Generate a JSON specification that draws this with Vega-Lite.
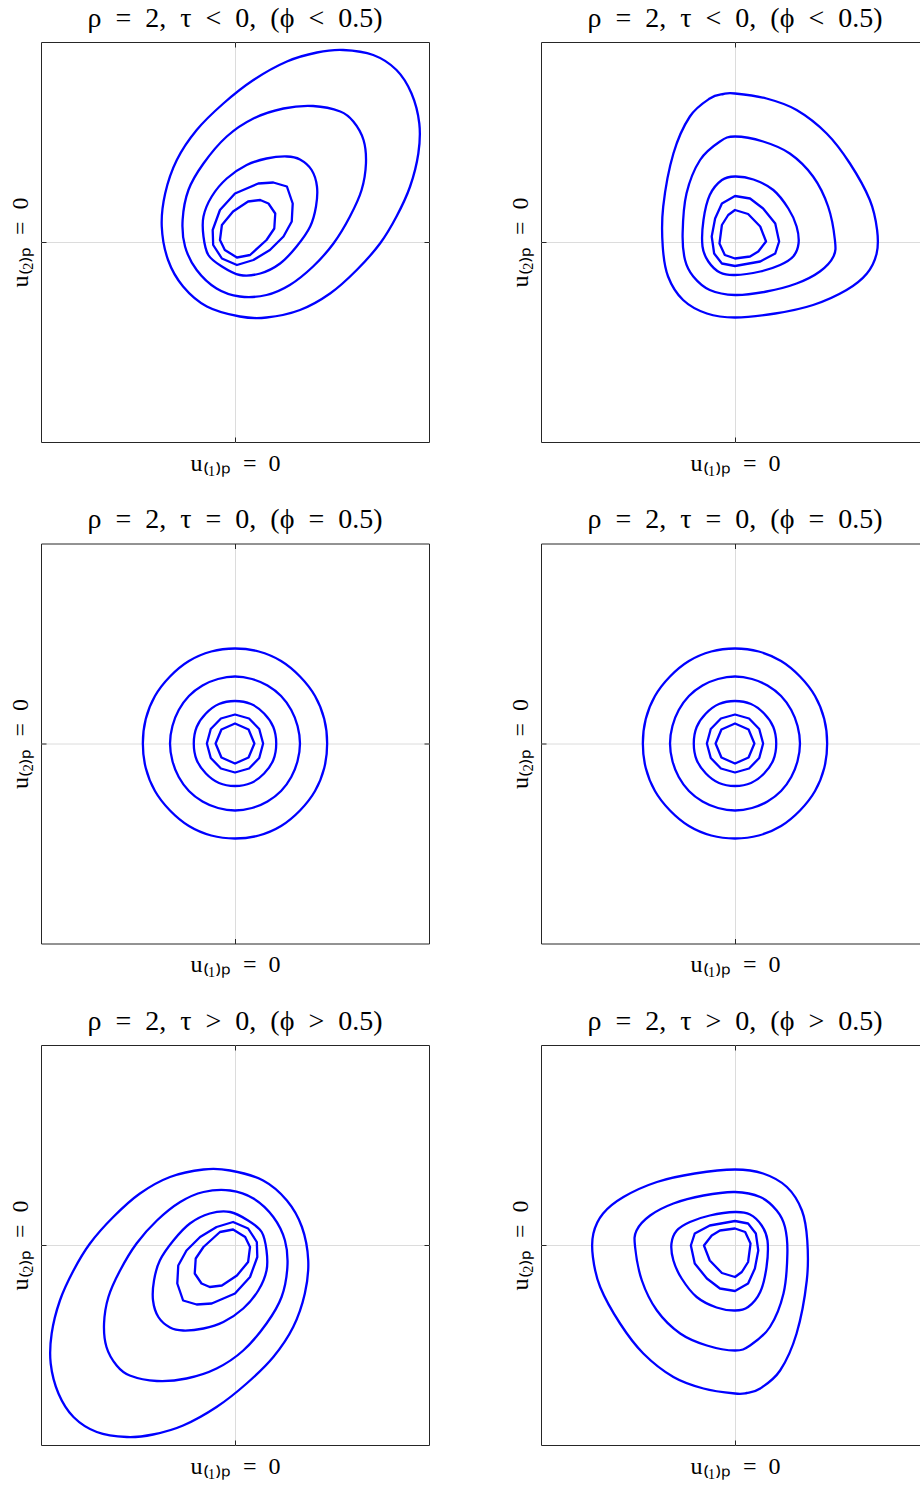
{
"$schema": "https://vega.github.io/schema/vega-lite/v6.json",
"background": "white",
"padding": {"left": 4, "top": 4, "right": 0, "bottom": 5},
"columns": 2,
"spacing": {"row": 22.5, "column": 74},
"data": {"values": [
{"p":1,"c":1,"x":2.23,"y":3.84},{"p":1,"c":1,"x":2.85,"y":3.74},{"p":1,"c":1,"x":3.33,"y":3.44},{"p":1,"c":1,"x":3.64,"y":2.97},{"p":1,"c":1,"x":3.8,"y":2.37},{"p":1,"c":1,"x":3.78,"y":1.77},{"p":1,"c":1,"x":3.61,"y":1.11},{"p":1,"c":1,"x":3.33,"y":0.51},{"p":1,"c":1,"x":2.99,"y":-0.03},{"p":1,"c":1,"x":2.51,"y":-0.56},{"p":1,"c":1,"x":1.96,"y":-1.03},{"p":1,"c":1,"x":1.34,"y":-1.36},{"p":1,"c":1,"x":0.65,"y":-1.51},{"p":1,"c":1,"x":0.1,"y":-1.49},{"p":1,"c":1,"x":-0.58,"y":-1.29},{"p":1,"c":1,"x":-1.07,"y":-0.89},{"p":1,"c":1,"x":-1.38,"y":-0.36},{"p":1,"c":1,"x":-1.51,"y":0.31},{"p":1,"c":1,"x":-1.44,"y":0.97},{"p":1,"c":1,"x":-1.2,"y":1.64},{"p":1,"c":1,"x":-0.79,"y":2.24},{"p":1,"c":1,"x":-0.24,"y":2.77},{"p":1,"c":1,"x":0.38,"y":3.24},{"p":1,"c":1,"x":1.07,"y":3.61},{"p":1,"c":1,"x":1.69,"y":3.79},
{"p":1,"c":2,"x":1.61,"y":2.72},{"p":1,"c":2,"x":2.17,"y":2.61},{"p":1,"c":2,"x":2.44,"y":2.41},{"p":1,"c":2,"x":2.65,"y":2.04},{"p":1,"c":2,"x":2.7,"y":1.57},{"p":1,"c":2,"x":2.61,"y":1.04},{"p":1,"c":2,"x":2.37,"y":0.51},{"p":1,"c":2,"x":2.03,"y":-0.03},{"p":1,"c":2,"x":1.61,"y":-0.49},{"p":1,"c":2,"x":1.13,"y":-0.86},{"p":1,"c":2,"x":0.65,"y":-1.06},{"p":1,"c":2,"x":0.1,"y":-1.09},{"p":1,"c":2,"x":-0.38,"y":-0.93},{"p":1,"c":2,"x":-0.79,"y":-0.56},{"p":1,"c":2,"x":-1.03,"y":-0.09},{"p":1,"c":2,"x":-1.08,"y":0.44},{"p":1,"c":2,"x":-0.96,"y":1.04},{"p":1,"c":2,"x":-0.65,"y":1.57},{"p":1,"c":2,"x":-0.17,"y":2.11},{"p":1,"c":2,"x":0.38,"y":2.47},{"p":1,"c":2,"x":1.0,"y":2.67},
{"p":1,"c":3,"x":1.07,"y":1.71},{"p":1,"c":3,"x":1.34,"y":1.65},{"p":1,"c":3,"x":1.58,"y":1.44},{"p":1,"c":3,"x":1.69,"y":1.11},{"p":1,"c":3,"x":1.67,"y":0.71},{"p":1,"c":3,"x":1.55,"y":0.31},{"p":1,"c":3,"x":1.27,"y":-0.09},{"p":1,"c":3,"x":0.93,"y":-0.43},{"p":1,"c":3,"x":0.52,"y":-0.63},{"p":1,"c":3,"x":0.1,"y":-0.66},{"p":1,"c":3,"x":-0.27,"y":-0.49},{"p":1,"c":3,"x":-0.55,"y":-0.26},{"p":1,"c":3,"x":-0.65,"y":0.11},{"p":1,"c":3,"x":-0.65,"y":0.51},{"p":1,"c":3,"x":-0.48,"y":0.91},{"p":1,"c":3,"x":-0.17,"y":1.27},{"p":1,"c":3,"x":0.24,"y":1.54},{"p":1,"c":3,"x":0.65,"y":1.67},
{"p":1,"c":4,"x":0.79,"y":1.19},{"p":1,"c":4,"x":1.07,"y":1.11},{"p":1,"c":4,"x":1.19,"y":0.77},{"p":1,"c":4,"x":1.17,"y":0.41},{"p":1,"c":4,"x":1.0,"y":0.11},{"p":1,"c":4,"x":0.72,"y":-0.16},{"p":1,"c":4,"x":0.38,"y":-0.36},{"p":1,"c":4,"x":0.04,"y":-0.46},{"p":1,"c":4,"x":-0.27,"y":-0.33},{"p":1,"c":4,"x":-0.45,"y":-0.06},{"p":1,"c":4,"x":-0.46,"y":0.24},{"p":1,"c":4,"x":-0.31,"y":0.64},{"p":1,"c":4,"x":0,"y":0.97},{"p":1,"c":4,"x":0.48,"y":1.17},
{"p":1,"c":5,"x":0.52,"y":0.84},{"p":1,"c":5,"x":0.69,"y":0.77},{"p":1,"c":5,"x":0.83,"y":0.57},{"p":1,"c":5,"x":0.81,"y":0.27},{"p":1,"c":5,"x":0.65,"y":0.04},{"p":1,"c":5,"x":0.31,"y":-0.26},{"p":1,"c":5,"x":0.04,"y":-0.31},{"p":1,"c":5,"x":-0.21,"y":-0.16},{"p":1,"c":5,"x":-0.31,"y":0.04},{"p":1,"c":5,"x":-0.27,"y":0.34},{"p":1,"c":5,"x":-0.04,"y":0.61},{"p":1,"c":5,"x":0.27,"y":0.81},
{"p":2,"c":1,"x":0,"y":2.97},{"p":2,"c":1,"x":0.65,"y":2.87},{"p":2,"c":1,"x":1.27,"y":2.64},{"p":2,"c":1,"x":1.89,"y":2.17},{"p":2,"c":1,"x":2.37,"y":1.57},{"p":2,"c":1,"x":2.78,"y":0.84},{"p":2,"c":1,"x":2.93,"y":0.24},{"p":2,"c":1,"x":2.92,"y":-0.23},{"p":2,"c":1,"x":2.72,"y":-0.63},{"p":2,"c":1,"x":2.3,"y":-0.96},{"p":2,"c":1,"x":1.61,"y":-1.26},{"p":2,"c":1,"x":0.83,"y":-1.43},{"p":2,"c":1,"x":0,"y":-1.51},{"p":2,"c":1,"x":-0.58,"y":-1.43},{"p":2,"c":1,"x":-1.07,"y":-1.16},{"p":2,"c":1,"x":-1.38,"y":-0.69},{"p":2,"c":1,"x":-1.49,"y":-0.09},{"p":2,"c":1,"x":-1.48,"y":0.71},{"p":2,"c":1,"x":-1.27,"y":1.77},{"p":2,"c":1,"x":-0.93,"y":2.51},{"p":2,"c":1,"x":-0.52,"y":2.87},{"p":2,"c":1,"x":-0.24,"y":2.96},
{"p":2,"c":2,"x":0,"y":2.11},{"p":2,"c":2,"x":0.58,"y":2.01},{"p":2,"c":2,"x":1.13,"y":1.77},{"p":2,"c":2,"x":1.61,"y":1.31},{"p":2,"c":2,"x":1.92,"y":0.71},{"p":2,"c":2,"x":2.06,"y":0.04},{"p":2,"c":2,"x":2.03,"y":-0.29},{"p":2,"c":2,"x":1.75,"y":-0.59},{"p":2,"c":2,"x":1.27,"y":-0.83},{"p":2,"c":2,"x":0.65,"y":-0.99},{"p":2,"c":2,"x":0,"y":-1.06},{"p":2,"c":2,"x":-0.52,"y":-0.96},{"p":2,"c":2,"x":-0.86,"y":-0.69},{"p":2,"c":2,"x":-1.03,"y":-0.36},{"p":2,"c":2,"x":-1.08,"y":0.17},{"p":2,"c":2,"x":-1.0,"y":0.97},{"p":2,"c":2,"x":-0.72,"y":1.64},{"p":2,"c":2,"x":-0.31,"y":2.01},
{"p":2,"c":3,"x":0,"y":1.31},{"p":2,"c":3,"x":0.38,"y":1.25},{"p":2,"c":3,"x":0.79,"y":1.04},{"p":2,"c":3,"x":1.1,"y":0.67},{"p":2,"c":3,"x":1.27,"y":0.31},{"p":2,"c":3,"x":1.31,"y":-0.03},{"p":2,"c":3,"x":1.2,"y":-0.29},{"p":2,"c":3,"x":0.93,"y":-0.46},{"p":2,"c":3,"x":0.52,"y":-0.59},{"p":2,"c":3,"x":0,"y":-0.66},{"p":2,"c":3,"x":-0.31,"y":-0.61},{"p":2,"c":3,"x":-0.55,"y":-0.39},{"p":2,"c":3,"x":-0.67,"y":-0.09},{"p":2,"c":3,"x":-0.65,"y":0.44},{"p":2,"c":3,"x":-0.52,"y":0.94},{"p":2,"c":3,"x":-0.27,"y":1.24},
{"p":2,"c":4,"x":0,"y":0.92},{"p":2,"c":4,"x":0.31,"y":0.87},{"p":2,"c":4,"x":0.58,"y":0.67},{"p":2,"c":4,"x":0.83,"y":0.37},{"p":2,"c":4,"x":0.91,"y":0.01},{"p":2,"c":4,"x":0.83,"y":-0.23},{"p":2,"c":4,"x":0.52,"y":-0.39},{"p":2,"c":4,"x":0,"y":-0.48},{"p":2,"c":4,"x":-0.27,"y":-0.43},{"p":2,"c":4,"x":-0.43,"y":-0.23},{"p":2,"c":4,"x":-0.48,"y":0.11},{"p":2,"c":4,"x":-0.41,"y":0.47},{"p":2,"c":4,"x":-0.27,"y":0.77},
{"p":2,"c":5,"x":0,"y":0.64},{"p":2,"c":5,"x":0.27,"y":0.56},{"p":2,"c":5,"x":0.52,"y":0.31},{"p":2,"c":5,"x":0.64,"y":0.01},{"p":2,"c":5,"x":0.48,"y":-0.19},{"p":2,"c":5,"x":0.31,"y":-0.29},{"p":2,"c":5,"x":0,"y":-0.33},{"p":2,"c":5,"x":-0.21,"y":-0.26},{"p":2,"c":5,"x":-0.32,"y":-0.03},{"p":2,"c":5,"x":-0.27,"y":0.34},{"p":2,"c":5,"x":-0.14,"y":0.54},
{"p":3,"c":1,"x":1.9,"y":0},{"p":3,"c":1,"x":1.84,"y":0.49},{"p":3,"c":1,"x":1.65,"y":0.95},{"p":3,"c":1,"x":1.34,"y":1.34},{"p":3,"c":1,"x":0.95,"y":1.65},{"p":3,"c":1,"x":0.49,"y":1.84},{"p":3,"c":1,"x":0,"y":1.9},{"p":3,"c":1,"x":-0.49,"y":1.84},{"p":3,"c":1,"x":-0.95,"y":1.65},{"p":3,"c":1,"x":-1.34,"y":1.34},{"p":3,"c":1,"x":-1.65,"y":0.95},{"p":3,"c":1,"x":-1.84,"y":0.49},{"p":3,"c":1,"x":-1.9,"y":0},{"p":3,"c":1,"x":-1.84,"y":-0.49},{"p":3,"c":1,"x":-1.65,"y":-0.95},{"p":3,"c":1,"x":-1.34,"y":-1.34},{"p":3,"c":1,"x":-0.95,"y":-1.65},{"p":3,"c":1,"x":-0.49,"y":-1.84},{"p":3,"c":1,"x":0,"y":-1.9},{"p":3,"c":1,"x":0.49,"y":-1.84},{"p":3,"c":1,"x":0.95,"y":-1.65},{"p":3,"c":1,"x":1.34,"y":-1.34},{"p":3,"c":1,"x":1.65,"y":-0.95},{"p":3,"c":1,"x":1.84,"y":-0.49},
{"p":3,"c":2,"x":1.34,"y":0},{"p":3,"c":2,"x":1.29,"y":0.35},{"p":3,"c":2,"x":1.16,"y":0.67},{"p":3,"c":2,"x":0.95,"y":0.95},{"p":3,"c":2,"x":0.67,"y":1.16},{"p":3,"c":2,"x":0.35,"y":1.29},{"p":3,"c":2,"x":0,"y":1.34},{"p":3,"c":2,"x":-0.35,"y":1.29},{"p":3,"c":2,"x":-0.67,"y":1.16},{"p":3,"c":2,"x":-0.95,"y":0.95},{"p":3,"c":2,"x":-1.16,"y":0.67},{"p":3,"c":2,"x":-1.29,"y":0.35},{"p":3,"c":2,"x":-1.34,"y":0},{"p":3,"c":2,"x":-1.29,"y":-0.35},{"p":3,"c":2,"x":-1.16,"y":-0.67},{"p":3,"c":2,"x":-0.95,"y":-0.95},{"p":3,"c":2,"x":-0.67,"y":-1.16},{"p":3,"c":2,"x":-0.35,"y":-1.29},{"p":3,"c":2,"x":0,"y":-1.34},{"p":3,"c":2,"x":0.35,"y":-1.29},{"p":3,"c":2,"x":0.67,"y":-1.16},{"p":3,"c":2,"x":0.95,"y":-0.95},{"p":3,"c":2,"x":1.16,"y":-0.67},{"p":3,"c":2,"x":1.29,"y":-0.35},
{"p":3,"c":3,"x":0.85,"y":0},{"p":3,"c":3,"x":0.79,"y":0.33},{"p":3,"c":3,"x":0.6,"y":0.6},{"p":3,"c":3,"x":0.33,"y":0.79},{"p":3,"c":3,"x":0,"y":0.85},{"p":3,"c":3,"x":-0.33,"y":0.79},{"p":3,"c":3,"x":-0.6,"y":0.6},{"p":3,"c":3,"x":-0.79,"y":0.33},{"p":3,"c":3,"x":-0.85,"y":0},{"p":3,"c":3,"x":-0.79,"y":-0.33},{"p":3,"c":3,"x":-0.6,"y":-0.6},{"p":3,"c":3,"x":-0.33,"y":-0.79},{"p":3,"c":3,"x":0,"y":-0.85},{"p":3,"c":3,"x":0.33,"y":-0.79},{"p":3,"c":3,"x":0.6,"y":-0.6},{"p":3,"c":3,"x":0.79,"y":-0.33},
{"p":3,"c":4,"x":0.58,"y":0},{"p":3,"c":4,"x":0.5,"y":0.29},{"p":3,"c":4,"x":0.29,"y":0.5},{"p":3,"c":4,"x":0,"y":0.58},{"p":3,"c":4,"x":-0.29,"y":0.5},{"p":3,"c":4,"x":-0.5,"y":0.29},{"p":3,"c":4,"x":-0.58,"y":0},{"p":3,"c":4,"x":-0.5,"y":-0.29},{"p":3,"c":4,"x":-0.29,"y":-0.5},{"p":3,"c":4,"x":0,"y":-0.58},{"p":3,"c":4,"x":0.29,"y":-0.5},{"p":3,"c":4,"x":0.5,"y":-0.29},
{"p":3,"c":5,"x":0.4,"y":0},{"p":3,"c":5,"x":0.28,"y":0.28},{"p":3,"c":5,"x":0,"y":0.4},{"p":3,"c":5,"x":-0.28,"y":0.28},{"p":3,"c":5,"x":-0.4,"y":0},{"p":3,"c":5,"x":-0.28,"y":-0.28},{"p":3,"c":5,"x":0,"y":-0.4},{"p":3,"c":5,"x":0.28,"y":-0.28},
{"p":4,"c":1,"x":1.9,"y":0},{"p":4,"c":1,"x":1.84,"y":0.49},{"p":4,"c":1,"x":1.65,"y":0.95},{"p":4,"c":1,"x":1.34,"y":1.34},{"p":4,"c":1,"x":0.95,"y":1.65},{"p":4,"c":1,"x":0.49,"y":1.84},{"p":4,"c":1,"x":0,"y":1.9},{"p":4,"c":1,"x":-0.49,"y":1.84},{"p":4,"c":1,"x":-0.95,"y":1.65},{"p":4,"c":1,"x":-1.34,"y":1.34},{"p":4,"c":1,"x":-1.65,"y":0.95},{"p":4,"c":1,"x":-1.84,"y":0.49},{"p":4,"c":1,"x":-1.9,"y":0},{"p":4,"c":1,"x":-1.84,"y":-0.49},{"p":4,"c":1,"x":-1.65,"y":-0.95},{"p":4,"c":1,"x":-1.34,"y":-1.34},{"p":4,"c":1,"x":-0.95,"y":-1.65},{"p":4,"c":1,"x":-0.49,"y":-1.84},{"p":4,"c":1,"x":0,"y":-1.9},{"p":4,"c":1,"x":0.49,"y":-1.84},{"p":4,"c":1,"x":0.95,"y":-1.65},{"p":4,"c":1,"x":1.34,"y":-1.34},{"p":4,"c":1,"x":1.65,"y":-0.95},{"p":4,"c":1,"x":1.84,"y":-0.49},
{"p":4,"c":2,"x":1.34,"y":0},{"p":4,"c":2,"x":1.29,"y":0.35},{"p":4,"c":2,"x":1.16,"y":0.67},{"p":4,"c":2,"x":0.95,"y":0.95},{"p":4,"c":2,"x":0.67,"y":1.16},{"p":4,"c":2,"x":0.35,"y":1.29},{"p":4,"c":2,"x":0,"y":1.34},{"p":4,"c":2,"x":-0.35,"y":1.29},{"p":4,"c":2,"x":-0.67,"y":1.16},{"p":4,"c":2,"x":-0.95,"y":0.95},{"p":4,"c":2,"x":-1.16,"y":0.67},{"p":4,"c":2,"x":-1.29,"y":0.35},{"p":4,"c":2,"x":-1.34,"y":0},{"p":4,"c":2,"x":-1.29,"y":-0.35},{"p":4,"c":2,"x":-1.16,"y":-0.67},{"p":4,"c":2,"x":-0.95,"y":-0.95},{"p":4,"c":2,"x":-0.67,"y":-1.16},{"p":4,"c":2,"x":-0.35,"y":-1.29},{"p":4,"c":2,"x":0,"y":-1.34},{"p":4,"c":2,"x":0.35,"y":-1.29},{"p":4,"c":2,"x":0.67,"y":-1.16},{"p":4,"c":2,"x":0.95,"y":-0.95},{"p":4,"c":2,"x":1.16,"y":-0.67},{"p":4,"c":2,"x":1.29,"y":-0.35},
{"p":4,"c":3,"x":0.85,"y":0},{"p":4,"c":3,"x":0.79,"y":0.33},{"p":4,"c":3,"x":0.6,"y":0.6},{"p":4,"c":3,"x":0.33,"y":0.79},{"p":4,"c":3,"x":0,"y":0.85},{"p":4,"c":3,"x":-0.33,"y":0.79},{"p":4,"c":3,"x":-0.6,"y":0.6},{"p":4,"c":3,"x":-0.79,"y":0.33},{"p":4,"c":3,"x":-0.85,"y":0},{"p":4,"c":3,"x":-0.79,"y":-0.33},{"p":4,"c":3,"x":-0.6,"y":-0.6},{"p":4,"c":3,"x":-0.33,"y":-0.79},{"p":4,"c":3,"x":0,"y":-0.85},{"p":4,"c":3,"x":0.33,"y":-0.79},{"p":4,"c":3,"x":0.6,"y":-0.6},{"p":4,"c":3,"x":0.79,"y":-0.33},
{"p":4,"c":4,"x":0.58,"y":0},{"p":4,"c":4,"x":0.5,"y":0.29},{"p":4,"c":4,"x":0.29,"y":0.5},{"p":4,"c":4,"x":0,"y":0.58},{"p":4,"c":4,"x":-0.29,"y":0.5},{"p":4,"c":4,"x":-0.5,"y":0.29},{"p":4,"c":4,"x":-0.58,"y":0},{"p":4,"c":4,"x":-0.5,"y":-0.29},{"p":4,"c":4,"x":-0.29,"y":-0.5},{"p":4,"c":4,"x":0,"y":-0.58},{"p":4,"c":4,"x":0.29,"y":-0.5},{"p":4,"c":4,"x":0.5,"y":-0.29},
{"p":4,"c":5,"x":0.4,"y":0},{"p":4,"c":5,"x":0.28,"y":0.28},{"p":4,"c":5,"x":0,"y":0.4},{"p":4,"c":5,"x":-0.28,"y":0.28},{"p":4,"c":5,"x":-0.4,"y":0},{"p":4,"c":5,"x":-0.28,"y":-0.28},{"p":4,"c":5,"x":0,"y":-0.4},{"p":4,"c":5,"x":0.28,"y":-0.28},
{"p":5,"c":1,"x":-2.23,"y":-3.84},{"p":5,"c":1,"x":-2.85,"y":-3.74},{"p":5,"c":1,"x":-3.33,"y":-3.44},{"p":5,"c":1,"x":-3.64,"y":-2.97},{"p":5,"c":1,"x":-3.8,"y":-2.37},{"p":5,"c":1,"x":-3.78,"y":-1.77},{"p":5,"c":1,"x":-3.61,"y":-1.11},{"p":5,"c":1,"x":-3.33,"y":-0.51},{"p":5,"c":1,"x":-2.99,"y":0.03},{"p":5,"c":1,"x":-2.51,"y":0.56},{"p":5,"c":1,"x":-1.96,"y":1.03},{"p":5,"c":1,"x":-1.34,"y":1.36},{"p":5,"c":1,"x":-0.65,"y":1.51},{"p":5,"c":1,"x":-0.1,"y":1.49},{"p":5,"c":1,"x":0.58,"y":1.29},{"p":5,"c":1,"x":1.07,"y":0.89},{"p":5,"c":1,"x":1.38,"y":0.36},{"p":5,"c":1,"x":1.51,"y":-0.31},{"p":5,"c":1,"x":1.44,"y":-0.97},{"p":5,"c":1,"x":1.2,"y":-1.64},{"p":5,"c":1,"x":0.79,"y":-2.24},{"p":5,"c":1,"x":0.24,"y":-2.77},{"p":5,"c":1,"x":-0.38,"y":-3.24},{"p":5,"c":1,"x":-1.07,"y":-3.61},{"p":5,"c":1,"x":-1.69,"y":-3.79},
{"p":5,"c":2,"x":-1.61,"y":-2.72},{"p":5,"c":2,"x":-2.17,"y":-2.61},{"p":5,"c":2,"x":-2.44,"y":-2.41},{"p":5,"c":2,"x":-2.65,"y":-2.04},{"p":5,"c":2,"x":-2.7,"y":-1.57},{"p":5,"c":2,"x":-2.61,"y":-1.04},{"p":5,"c":2,"x":-2.37,"y":-0.51},{"p":5,"c":2,"x":-2.03,"y":0.03},{"p":5,"c":2,"x":-1.61,"y":0.49},{"p":5,"c":2,"x":-1.13,"y":0.86},{"p":5,"c":2,"x":-0.65,"y":1.06},{"p":5,"c":2,"x":-0.1,"y":1.09},{"p":5,"c":2,"x":0.38,"y":0.93},{"p":5,"c":2,"x":0.79,"y":0.56},{"p":5,"c":2,"x":1.03,"y":0.09},{"p":5,"c":2,"x":1.08,"y":-0.44},{"p":5,"c":2,"x":0.96,"y":-1.04},{"p":5,"c":2,"x":0.65,"y":-1.57},{"p":5,"c":2,"x":0.17,"y":-2.11},{"p":5,"c":2,"x":-0.38,"y":-2.47},{"p":5,"c":2,"x":-1.0,"y":-2.67},
{"p":5,"c":3,"x":-1.07,"y":-1.71},{"p":5,"c":3,"x":-1.34,"y":-1.65},{"p":5,"c":3,"x":-1.58,"y":-1.44},{"p":5,"c":3,"x":-1.69,"y":-1.11},{"p":5,"c":3,"x":-1.67,"y":-0.71},{"p":5,"c":3,"x":-1.55,"y":-0.31},{"p":5,"c":3,"x":-1.27,"y":0.09},{"p":5,"c":3,"x":-0.93,"y":0.43},{"p":5,"c":3,"x":-0.52,"y":0.63},{"p":5,"c":3,"x":-0.1,"y":0.66},{"p":5,"c":3,"x":0.27,"y":0.49},{"p":5,"c":3,"x":0.55,"y":0.26},{"p":5,"c":3,"x":0.65,"y":-0.11},{"p":5,"c":3,"x":0.65,"y":-0.51},{"p":5,"c":3,"x":0.48,"y":-0.91},{"p":5,"c":3,"x":0.17,"y":-1.27},{"p":5,"c":3,"x":-0.24,"y":-1.54},{"p":5,"c":3,"x":-0.65,"y":-1.67},
{"p":5,"c":4,"x":-0.79,"y":-1.19},{"p":5,"c":4,"x":-1.07,"y":-1.11},{"p":5,"c":4,"x":-1.19,"y":-0.77},{"p":5,"c":4,"x":-1.17,"y":-0.41},{"p":5,"c":4,"x":-1.0,"y":-0.11},{"p":5,"c":4,"x":-0.72,"y":0.16},{"p":5,"c":4,"x":-0.38,"y":0.36},{"p":5,"c":4,"x":-0.04,"y":0.46},{"p":5,"c":4,"x":0.27,"y":0.33},{"p":5,"c":4,"x":0.45,"y":0.06},{"p":5,"c":4,"x":0.46,"y":-0.24},{"p":5,"c":4,"x":0.31,"y":-0.64},{"p":5,"c":4,"x":0,"y":-0.97},{"p":5,"c":4,"x":-0.48,"y":-1.17},
{"p":5,"c":5,"x":-0.52,"y":-0.84},{"p":5,"c":5,"x":-0.69,"y":-0.77},{"p":5,"c":5,"x":-0.83,"y":-0.57},{"p":5,"c":5,"x":-0.81,"y":-0.27},{"p":5,"c":5,"x":-0.65,"y":-0.04},{"p":5,"c":5,"x":-0.31,"y":0.26},{"p":5,"c":5,"x":-0.04,"y":0.31},{"p":5,"c":5,"x":0.21,"y":0.16},{"p":5,"c":5,"x":0.31,"y":-0.04},{"p":5,"c":5,"x":0.27,"y":-0.34},{"p":5,"c":5,"x":0.04,"y":-0.61},{"p":5,"c":5,"x":-0.27,"y":-0.81},
{"p":6,"c":1,"x":0,"y":-2.97},{"p":6,"c":1,"x":-0.65,"y":-2.87},{"p":6,"c":1,"x":-1.27,"y":-2.64},{"p":6,"c":1,"x":-1.89,"y":-2.17},{"p":6,"c":1,"x":-2.37,"y":-1.57},{"p":6,"c":1,"x":-2.78,"y":-0.84},{"p":6,"c":1,"x":-2.93,"y":-0.24},{"p":6,"c":1,"x":-2.92,"y":0.23},{"p":6,"c":1,"x":-2.72,"y":0.63},{"p":6,"c":1,"x":-2.3,"y":0.96},{"p":6,"c":1,"x":-1.61,"y":1.26},{"p":6,"c":1,"x":-0.83,"y":1.43},{"p":6,"c":1,"x":0,"y":1.51},{"p":6,"c":1,"x":0.58,"y":1.43},{"p":6,"c":1,"x":1.07,"y":1.16},{"p":6,"c":1,"x":1.38,"y":0.69},{"p":6,"c":1,"x":1.49,"y":0.09},{"p":6,"c":1,"x":1.48,"y":-0.71},{"p":6,"c":1,"x":1.27,"y":-1.77},{"p":6,"c":1,"x":0.93,"y":-2.51},{"p":6,"c":1,"x":0.52,"y":-2.87},{"p":6,"c":1,"x":0.24,"y":-2.96},
{"p":6,"c":2,"x":0,"y":-2.11},{"p":6,"c":2,"x":-0.58,"y":-2.01},{"p":6,"c":2,"x":-1.13,"y":-1.77},{"p":6,"c":2,"x":-1.61,"y":-1.31},{"p":6,"c":2,"x":-1.92,"y":-0.71},{"p":6,"c":2,"x":-2.06,"y":-0.04},{"p":6,"c":2,"x":-2.03,"y":0.29},{"p":6,"c":2,"x":-1.75,"y":0.59},{"p":6,"c":2,"x":-1.27,"y":0.83},{"p":6,"c":2,"x":-0.65,"y":0.99},{"p":6,"c":2,"x":0,"y":1.06},{"p":6,"c":2,"x":0.52,"y":0.96},{"p":6,"c":2,"x":0.86,"y":0.69},{"p":6,"c":2,"x":1.03,"y":0.36},{"p":6,"c":2,"x":1.08,"y":-0.17},{"p":6,"c":2,"x":1.0,"y":-0.97},{"p":6,"c":2,"x":0.72,"y":-1.64},{"p":6,"c":2,"x":0.31,"y":-2.01},
{"p":6,"c":3,"x":0,"y":-1.31},{"p":6,"c":3,"x":-0.38,"y":-1.25},{"p":6,"c":3,"x":-0.79,"y":-1.04},{"p":6,"c":3,"x":-1.1,"y":-0.67},{"p":6,"c":3,"x":-1.27,"y":-0.31},{"p":6,"c":3,"x":-1.31,"y":0.03},{"p":6,"c":3,"x":-1.2,"y":0.29},{"p":6,"c":3,"x":-0.93,"y":0.46},{"p":6,"c":3,"x":-0.52,"y":0.59},{"p":6,"c":3,"x":0,"y":0.66},{"p":6,"c":3,"x":0.31,"y":0.61},{"p":6,"c":3,"x":0.55,"y":0.39},{"p":6,"c":3,"x":0.67,"y":0.09},{"p":6,"c":3,"x":0.65,"y":-0.44},{"p":6,"c":3,"x":0.52,"y":-0.94},{"p":6,"c":3,"x":0.27,"y":-1.24},
{"p":6,"c":4,"x":0,"y":-0.92},{"p":6,"c":4,"x":-0.31,"y":-0.87},{"p":6,"c":4,"x":-0.58,"y":-0.67},{"p":6,"c":4,"x":-0.83,"y":-0.37},{"p":6,"c":4,"x":-0.91,"y":-0.01},{"p":6,"c":4,"x":-0.83,"y":0.23},{"p":6,"c":4,"x":-0.52,"y":0.39},{"p":6,"c":4,"x":0,"y":0.48},{"p":6,"c":4,"x":0.27,"y":0.43},{"p":6,"c":4,"x":0.43,"y":0.23},{"p":6,"c":4,"x":0.48,"y":-0.11},{"p":6,"c":4,"x":0.41,"y":-0.47},{"p":6,"c":4,"x":0.27,"y":-0.77},
{"p":6,"c":5,"x":0,"y":-0.64},{"p":6,"c":5,"x":-0.27,"y":-0.56},{"p":6,"c":5,"x":-0.52,"y":-0.31},{"p":6,"c":5,"x":-0.64,"y":-0.01},{"p":6,"c":5,"x":-0.48,"y":0.19},{"p":6,"c":5,"x":-0.31,"y":0.29},{"p":6,"c":5,"x":0,"y":0.33},{"p":6,"c":5,"x":0.21,"y":0.26},{"p":6,"c":5,"x":0.32,"y":0.03},{"p":6,"c":5,"x":0.27,"y":-0.34},{"p":6,"c":5,"x":0.14,"y":-0.54}
]},
"concat": [
{"title": "ρ\u2002=\u20022,\u2002τ\u2002<\u20020,\u2002(ϕ\u2002<\u20020.5)", "width": 388, "height": 400, "transform": [{"filter": "datum.p == 1"}],
 "resolve": {"axis": {"x": "independent", "y": "independent"}},
 "layer": [
  {"transform": [{"filter": "datum.c <= 3"}], "mark": {"type": "line", "color": "#0000ff", "strokeWidth": 2.3, "interpolate": "cardinal-closed"},
   "encoding": {"x": {"field": "x", "type": "quantitative", "scale": {"domain": [-4, 4], "nice": false, "zero": false}, "axis": {"values": [0], "title": null}},
    "y": {"field": "y", "type": "quantitative", "scale": {"domain": [-4, 4], "nice": false, "zero": false}, "axis": {"values": [0], "title": null}},
    "detail": {"field": "c", "type": "nominal"}, "order": {"value": null}}},
  {"transform": [{"filter": "datum.c >= 4"}], "mark": {"type": "line", "color": "#0000ff", "strokeWidth": 2.3, "strokeJoin": "round", "interpolate": "linear-closed"},
   "encoding": {"x": {"field": "x", "type": "quantitative", "scale": {"domain": [-4, 4], "nice": false, "zero": false}, "axis": {"values": [0], "title": null, "orient": "top", "labels": false, "grid": false, "minExtent": 0, "maxExtent": 0}},
    "y": {"field": "y", "type": "quantitative", "scale": {"domain": [-4, 4], "nice": false, "zero": false}, "axis": {"values": [0], "title": null, "orient": "right", "labels": false, "grid": false, "minExtent": 0, "maxExtent": 0}},
    "detail": {"field": "c", "type": "nominal"}, "order": {"value": null}}}
 ]},
{"title": "ρ\u2002=\u20022,\u2002τ\u2002<\u20020,\u2002(ϕ\u2002<\u20020.5)", "width": 388, "height": 400, "transform": [{"filter": "datum.p == 2"}],
 "resolve": {"axis": {"x": "independent", "y": "independent"}},
 "layer": [
  {"transform": [{"filter": "datum.c <= 3"}], "mark": {"type": "line", "color": "#0000ff", "strokeWidth": 2.3, "interpolate": "cardinal-closed"},
   "encoding": {"x": {"field": "x", "type": "quantitative", "scale": {"domain": [-4, 4], "nice": false, "zero": false}, "axis": {"values": [0], "title": null}},
    "y": {"field": "y", "type": "quantitative", "scale": {"domain": [-4, 4], "nice": false, "zero": false}, "axis": {"values": [0], "title": null}},
    "detail": {"field": "c", "type": "nominal"}, "order": {"value": null}}},
  {"transform": [{"filter": "datum.c >= 4"}], "mark": {"type": "line", "color": "#0000ff", "strokeWidth": 2.3, "strokeJoin": "round", "interpolate": "linear-closed"},
   "encoding": {"x": {"field": "x", "type": "quantitative", "scale": {"domain": [-4, 4], "nice": false, "zero": false}, "axis": {"values": [0], "title": null, "orient": "top", "labels": false, "grid": false, "minExtent": 0, "maxExtent": 0}},
    "y": {"field": "y", "type": "quantitative", "scale": {"domain": [-4, 4], "nice": false, "zero": false}, "axis": {"values": [0], "title": null, "orient": "right", "labels": false, "grid": false, "minExtent": 0, "maxExtent": 0}},
    "detail": {"field": "c", "type": "nominal"}, "order": {"value": null}}}
 ]},
{"title": "ρ\u2002=\u20022,\u2002τ\u2002=\u20020,\u2002(ϕ\u2002=\u20020.5)", "width": 388, "height": 400, "transform": [{"filter": "datum.p == 3"}],
 "resolve": {"axis": {"x": "independent", "y": "independent"}},
 "layer": [
  {"transform": [{"filter": "datum.c <= 3"}], "mark": {"type": "line", "color": "#0000ff", "strokeWidth": 2.3, "interpolate": "cardinal-closed"},
   "encoding": {"x": {"field": "x", "type": "quantitative", "scale": {"domain": [-4, 4], "nice": false, "zero": false}, "axis": {"values": [0], "title": null}},
    "y": {"field": "y", "type": "quantitative", "scale": {"domain": [-4, 4], "nice": false, "zero": false}, "axis": {"values": [0], "title": null}},
    "detail": {"field": "c", "type": "nominal"}, "order": {"value": null}}},
  {"transform": [{"filter": "datum.c >= 4"}], "mark": {"type": "line", "color": "#0000ff", "strokeWidth": 2.3, "strokeJoin": "round", "interpolate": "linear-closed"},
   "encoding": {"x": {"field": "x", "type": "quantitative", "scale": {"domain": [-4, 4], "nice": false, "zero": false}, "axis": {"values": [0], "title": null, "orient": "top", "labels": false, "grid": false, "minExtent": 0, "maxExtent": 0}},
    "y": {"field": "y", "type": "quantitative", "scale": {"domain": [-4, 4], "nice": false, "zero": false}, "axis": {"values": [0], "title": null, "orient": "right", "labels": false, "grid": false, "minExtent": 0, "maxExtent": 0}},
    "detail": {"field": "c", "type": "nominal"}, "order": {"value": null}}}
 ]},
{"title": "ρ\u2002=\u20022,\u2002τ\u2002=\u20020,\u2002(ϕ\u2002=\u20020.5)", "width": 388, "height": 400, "transform": [{"filter": "datum.p == 4"}],
 "resolve": {"axis": {"x": "independent", "y": "independent"}},
 "layer": [
  {"transform": [{"filter": "datum.c <= 3"}], "mark": {"type": "line", "color": "#0000ff", "strokeWidth": 2.3, "interpolate": "cardinal-closed"},
   "encoding": {"x": {"field": "x", "type": "quantitative", "scale": {"domain": [-4, 4], "nice": false, "zero": false}, "axis": {"values": [0], "title": null}},
    "y": {"field": "y", "type": "quantitative", "scale": {"domain": [-4, 4], "nice": false, "zero": false}, "axis": {"values": [0], "title": null}},
    "detail": {"field": "c", "type": "nominal"}, "order": {"value": null}}},
  {"transform": [{"filter": "datum.c >= 4"}], "mark": {"type": "line", "color": "#0000ff", "strokeWidth": 2.3, "strokeJoin": "round", "interpolate": "linear-closed"},
   "encoding": {"x": {"field": "x", "type": "quantitative", "scale": {"domain": [-4, 4], "nice": false, "zero": false}, "axis": {"values": [0], "title": null, "orient": "top", "labels": false, "grid": false, "minExtent": 0, "maxExtent": 0}},
    "y": {"field": "y", "type": "quantitative", "scale": {"domain": [-4, 4], "nice": false, "zero": false}, "axis": {"values": [0], "title": null, "orient": "right", "labels": false, "grid": false, "minExtent": 0, "maxExtent": 0}},
    "detail": {"field": "c", "type": "nominal"}, "order": {"value": null}}}
 ]},
{"title": "ρ\u2002=\u20022,\u2002τ\u2002>\u20020,\u2002(ϕ\u2002>\u20020.5)", "width": 388, "height": 400, "transform": [{"filter": "datum.p == 5"}],
 "resolve": {"axis": {"x": "independent", "y": "independent"}},
 "layer": [
  {"transform": [{"filter": "datum.c <= 3"}], "mark": {"type": "line", "color": "#0000ff", "strokeWidth": 2.3, "interpolate": "cardinal-closed"},
   "encoding": {"x": {"field": "x", "type": "quantitative", "scale": {"domain": [-4, 4], "nice": false, "zero": false}, "axis": {"values": [0], "title": null}},
    "y": {"field": "y", "type": "quantitative", "scale": {"domain": [-4, 4], "nice": false, "zero": false}, "axis": {"values": [0], "title": null}},
    "detail": {"field": "c", "type": "nominal"}, "order": {"value": null}}},
  {"transform": [{"filter": "datum.c >= 4"}], "mark": {"type": "line", "color": "#0000ff", "strokeWidth": 2.3, "strokeJoin": "round", "interpolate": "linear-closed"},
   "encoding": {"x": {"field": "x", "type": "quantitative", "scale": {"domain": [-4, 4], "nice": false, "zero": false}, "axis": {"values": [0], "title": null, "orient": "top", "labels": false, "grid": false, "minExtent": 0, "maxExtent": 0}},
    "y": {"field": "y", "type": "quantitative", "scale": {"domain": [-4, 4], "nice": false, "zero": false}, "axis": {"values": [0], "title": null, "orient": "right", "labels": false, "grid": false, "minExtent": 0, "maxExtent": 0}},
    "detail": {"field": "c", "type": "nominal"}, "order": {"value": null}}}
 ]},
{"title": "ρ\u2002=\u20022,\u2002τ\u2002>\u20020,\u2002(ϕ\u2002>\u20020.5)", "width": 388, "height": 400, "transform": [{"filter": "datum.p == 6"}],
 "resolve": {"axis": {"x": "independent", "y": "independent"}},
 "layer": [
  {"transform": [{"filter": "datum.c <= 3"}], "mark": {"type": "line", "color": "#0000ff", "strokeWidth": 2.3, "interpolate": "cardinal-closed"},
   "encoding": {"x": {"field": "x", "type": "quantitative", "scale": {"domain": [-4, 4], "nice": false, "zero": false}, "axis": {"values": [0], "title": null}},
    "y": {"field": "y", "type": "quantitative", "scale": {"domain": [-4, 4], "nice": false, "zero": false}, "axis": {"values": [0], "title": null}},
    "detail": {"field": "c", "type": "nominal"}, "order": {"value": null}}},
  {"transform": [{"filter": "datum.c >= 4"}], "mark": {"type": "line", "color": "#0000ff", "strokeWidth": 2.3, "strokeJoin": "round", "interpolate": "linear-closed"},
   "encoding": {"x": {"field": "x", "type": "quantitative", "scale": {"domain": [-4, 4], "nice": false, "zero": false}, "axis": {"values": [0], "title": null, "orient": "top", "labels": false, "grid": false, "minExtent": 0, "maxExtent": 0}},
    "y": {"field": "y", "type": "quantitative", "scale": {"domain": [-4, 4], "nice": false, "zero": false}, "axis": {"values": [0], "title": null, "orient": "right", "labels": false, "grid": false, "minExtent": 0, "maxExtent": 0}},
    "detail": {"field": "c", "type": "nominal"}, "order": {"value": null}}}
 ]}
],
"config": {
 "view": {"stroke": "#262626", "strokeWidth": 1},
 "axis": {"grid": true, "gridColor": "#dcdcdc", "gridWidth": 1, "domain": false, "ticks": true, "tickColor": "#262626", "tickSize": -5, "tickWidth": 1, "labelFont": "Liberation Serif", "labelFontSize": 24, "labelColor": "#000000"},
 "axisX": {"labelExpr": "'u₍₁₎ₚ\u2002=\u20020'", "labelPadding": 14, "minExtent": 40, "maxExtent": 40},
 "axisY": {"labelExpr": "'u₍₂₎ₚ\u2002=\u20020'", "labelAngle": -90, "labelAlign": "center", "labelBaseline": "bottom", "labelPadding": 14, "minExtent": 36, "maxExtent": 36},
 "title": {"font": "Liberation Serif", "fontSize": 28, "fontWeight": "normal", "color": "#000000", "offset": 9, "anchor": "middle"}
}
}
